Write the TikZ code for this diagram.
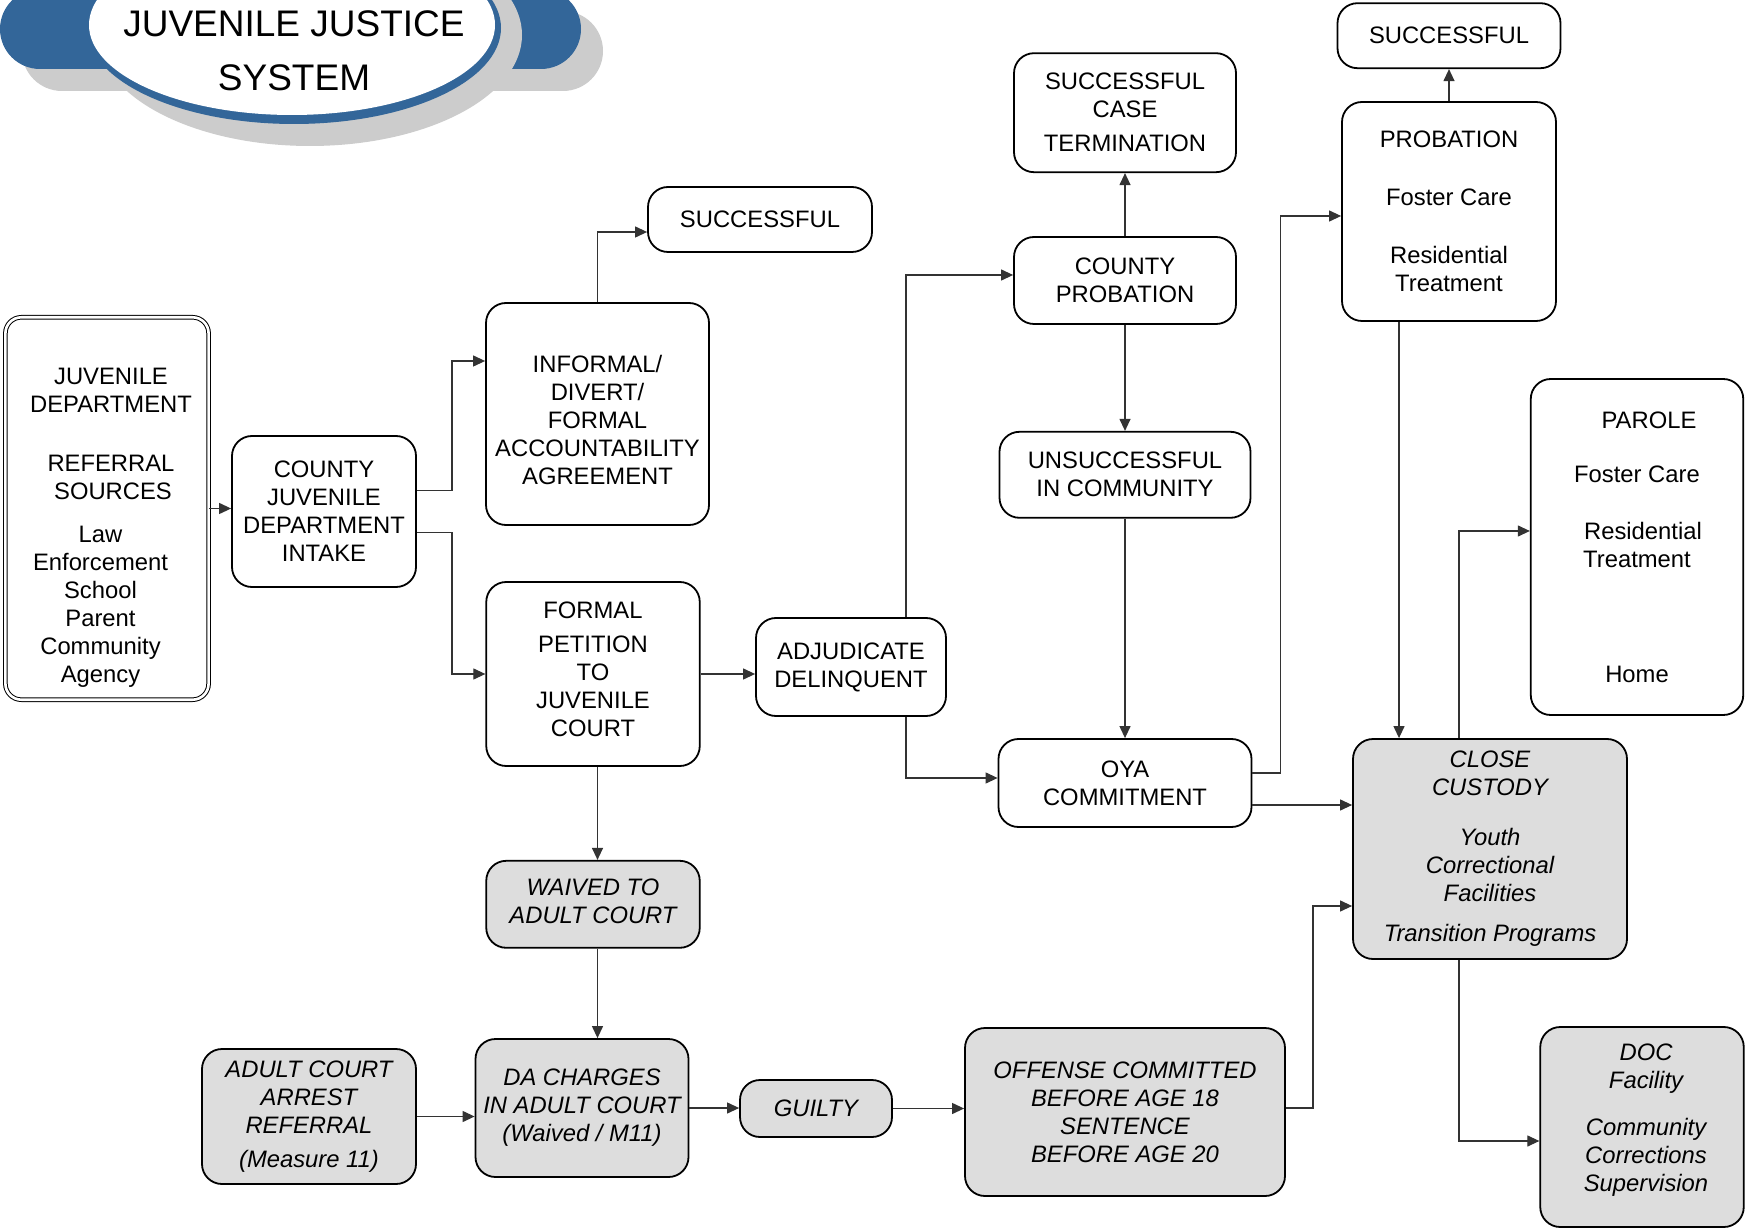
\documentclass[tikz,border=0pt]{standalone}
\usepackage{fontspec}
\setmainfont{Liberation Sans}
\usetikzlibrary{arrows.meta, positioning, calc}

\definecolor{boxgrey}{RGB}{221,221,221}
\definecolor{titleblue}{RGB}{51,102,153}
\definecolor{shadowgrey}{RGB}{204,204,204}
\newcommand{\diagfont}{\fontsize{11.9}{14}\selectfont}
\newcommand{\titlefont}{\fontsize{18.5}{27}\selectfont}
\newcommand{\firstline}[1]{\rule{0pt}{#1}}
\newcommand{\lastline}[1]{\rule[-#1]{0pt}{#1}}

\tikzset{
    box/.style={draw, line width=0.9pt, rounded corners=10pt, fill=white, align=center, inner sep=2pt, font=\diagfont},
    greybox/.style={box, fill=boxgrey, font=\diagfont\itshape},
    arrow/.style={-{Triangle[length=6pt, width=5.5pt]}, line width=0.6pt, black!80}
}

\begin{document}
\begin{tikzpicture}[x=0.5pt, y=-0.5pt]
        \fill[white] (0,0) rectangle (1745,1229);
        \useasboundingbox (0,0) rectangle (1745,1229);

        % title banner
        \fill[shadowgrey, rounded corners=20pt] (22,11) rectangle (603,91);
        \fill[titleblue, rounded corners=20pt] (0,-11) rectangle (581,69);
        \fill[shadowgrey] (310,35) ellipse [x radius=106pt, y radius=55.5pt];
        \fill[titleblue] (294,28) ellipse [x radius=103.5pt, y radius=48pt];
        \fill[white] (292,25) ellipse [x radius=101.5pt, y radius=45pt];
        \node [font=\titlefont, align=center] (title) at (294,51) {JUVENILE JUSTICE\\SYSTEM};

        % juvenile side
        \node [box, double, line width=0.5pt, double distance=1.3pt, rounded corners=8pt, minimum width=101.6pt, minimum height=191.2pt] (ref) at (107,508.5) {\firstline{27.2pt}\hspace*{4pt}JUVENILE\\\hspace*{4pt}DEPARTMENT\\[15.5pt]\hspace*{4pt}REFERRAL\\\hspace*{6pt}SOURCES\\[7.5pt]\hspace*{-6.5pt}Law\\\hspace*{-6.5pt}Enforcement\\\hspace*{-6.5pt}School\\\hspace*{-6.5pt}Parent\\\hspace*{-6.5pt}Community\\\hspace*{-6.5pt}Agency};
        \node [box, minimum width=92pt, minimum height=75.5pt] (intake) at (324,511.5) {COUNTY\\JUVENILE\\DEPARTMENT\\INTAKE};
        \node [box, minimum width=111.5pt, minimum height=111pt] (informal) at (597.5,414) {\firstline{14.2pt}INFORMAL/\\DIVERT/\\FORMAL\\ACCOUNTABILITY\\AGREEMENT};
        \node [box, minimum width=112pt, minimum height=32.5pt] (succ1) at (760,219.5) {SUCCESSFUL};
        \node [box, minimum width=106.75pt, minimum height=92pt] (formal) at (593,674) {FORMAL\\[3pt]PETITION\\TO\\JUVENILE\\COURT\lastline{4.5pt}};
        \node [box, minimum width=95pt, minimum height=49pt] (adj) at (851,667) {ADJUDICATE\\DELINQUENT};
        \node [box, minimum width=111pt, minimum height=43.5pt] (cprob) at (1125,280.5) {COUNTY\\PROBATION};
        \node [box, above=31.5pt of cprob, minimum width=111pt, minimum height=59.5pt] (sct) {SUCCESSFUL\\CASE\\[3pt]TERMINATION};
        \node [box, below=53pt of cprob, minimum width=125.5pt, minimum height=43pt] (unsucc) {UNSUCCESSFUL\\IN COMMUNITY};
        \node [box, minimum width=126.5pt, minimum height=44pt] (oya) at (1125,783) {OYA\\COMMITMENT};
        \node [box, minimum width=107pt, minimum height=109.5pt] (prob) at (1449,211.5) {PROBATION\\[15pt]Foster Care\\[15pt]Residential\\Treatment};
        \node [box, above=16pt of prob, minimum width=111.5pt, minimum height=32.5pt] (succ2) {SUCCESSFUL};
        \node [box, minimum width=106.25pt, minimum height=168pt] (parole) at (1637,547) {\hspace*{12pt}PAROLE\\[13pt]Foster Care\\[14.5pt]\hspace*{6pt}Residential\\Treatment\\[43.5pt]Home};

        % adult side
        \node [greybox, below=46.5pt of formal, minimum width=106.75pt, minimum height=43.5pt] (waived) {WAIVED TO\\ADULT COURT\lastline{3pt}};
        \node [greybox, minimum width=106.5pt, minimum height=69pt] (da) at (582,1108) {DA CHARGES\\IN ADULT COURT\\(Waived / M11)};
        \node [greybox, minimum width=107pt, minimum height=67.5pt] (adult) at (309,1116.5) {ADULT COURT\\ARREST\\REFERRAL\\[3pt](Measure 11)};
        \node [greybox, minimum width=76pt, minimum height=28.5pt] (guilty) at (816,1108.5) {GUILTY};
        \node [greybox, minimum width=160pt, minimum height=84pt] (offense) at (1125,1112) {OFFENSE COMMITTED\\BEFORE AGE 18\\SENTENCE\\BEFORE AGE 20};
        \node [greybox, minimum width=137pt, minimum height=110pt] (close) at (1490,849) {CLOSE\\CUSTODY\\[11pt]Youth\\Correctional\\Facilities\\[6pt]Transition Programs};
        \node [greybox, minimum width=101.75pt, minimum height=100pt] (doc) at (1642,1127) {\hspace*{4pt}DOC\\\hspace*{4pt}Facility\\[9.5pt]\hspace*{4pt}Community\\\hspace*{4pt}Corrections\\\hspace*{4pt}Supervision\lastline{9pt}};

        \draw [arrow] (ref.east) -- (ref.east -| intake.west);
        \draw [arrow] ($(intake.east)+(0,-21)$) -- ++(35,0) |- ($(informal.west)+(0,-53)$);
        \draw [arrow] ($(intake.east)+(0,21)$) -- ++(35,0) |- (formal.west);
        \draw [arrow] (informal.north) |- ($(succ1.west)+(0,12.5)$);
        \draw [arrow] (formal.east) -- (formal.east -| adj.west);
        \draw [arrow] ($(formal.south)+(4.5,0)$) -- ($(waived.north)+(4.5,0)$);
        \draw [arrow] ($(waived.south)+(4.5,0)$) -- ($(da.north)+(15.5,0)$);
        \draw [arrow] (adult.east) -- (adult.east -| da.west);
        \draw [arrow] (da.east) -- (da.east -| guilty.west);
        \draw [arrow] (guilty.east) -- (guilty.east -| offense.west);
        \draw [arrow] ($(adj.north)+(55,0)$) |- ($(cprob.west)+(0,-5.5)$);
        \draw [arrow] ($(adj.south)+(55,0)$) |- ($(oya.west)+(0,-5)$);
        \draw [arrow] (cprob.north) -- (sct.south);
        \draw [arrow] (cprob.south) -- (unsucc.north);
        \draw [arrow] (unsucc.south) -- (oya.north);
        \draw [arrow] ($(oya.east)+(0,-10)$) -- ++(28,0) |- ($(prob.west)+(0,4.5)$);
        \draw [arrow] ($(oya.east)+(0,22)$) coordinate (oyaout) -- (oyaout -| close.west);
        \draw [arrow] (prob.north) -- (succ2.south);
        \draw [arrow] ($(prob.south)+(-50,0)$) -- ($(close.north)+(-91,0)$);
        \draw [arrow] ($(close.north)+(-31,0)$) |- ($(parole.west)+(0,-16)$);
        \draw [arrow] ($(close.south)+(-31,0)$) |- ($(doc.west)+(0,14)$);
        \draw [arrow] ($(offense.east)+(0,-4)$) -- ++(27,0) |- ($(close.west)+(0,57)$);
    \end{tikzpicture}
\end{document}
